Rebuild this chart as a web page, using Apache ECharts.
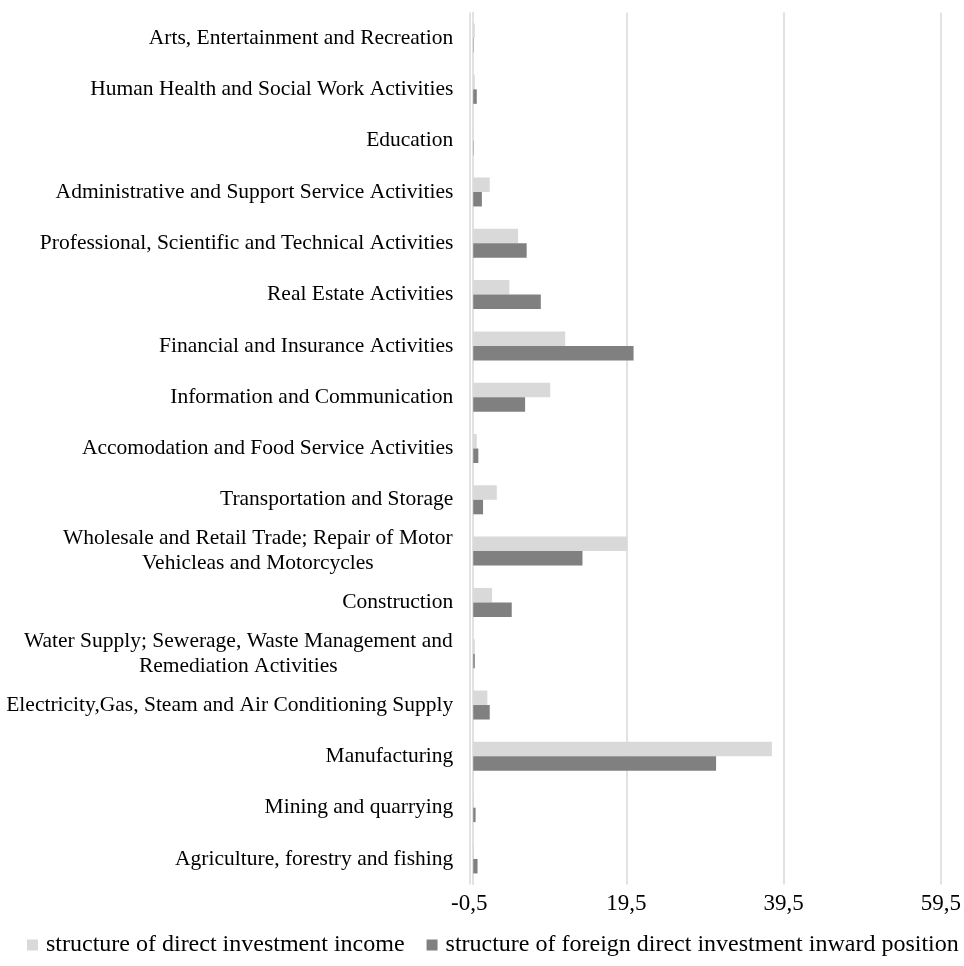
<!DOCTYPE html>
<html>
<head>
<meta charset="utf-8">
<script src="https://cdn.jsdelivr.net/npm/echarts@6/dist/echarts.min.js"></script>
<style>
html,body{margin:0;padding:0;background:#fff;}
#chart{width:964px;height:966px;}
</style>
</head>
<body>
<div id="chart"></div>
<script>
// Categories, top to bottom as shown
const categories = [
  "Arts, Entertainment and Recreation",
  "Human Health and Social Work Activities",
  "Education",
  "Administrative and Support Service Activities",
  "Professional, Scientific and Technical Activities",
  "Real Estate Activities",
  "Financial and Insurance Activities",
  "Information and Communication",
  "Accomodation and Food Service Activities",
  "Transportation and Storage",
  "Wholesale and Retail Trade; Repair of Motor\nVehicleas and Motorcycles",
  "Construction",
  "Water Supply; Sewerage, Waste Management and\nRemediation Activities",
  "Electricity,Gas, Steam and Air Conditioning Supply",
  "Manufacturing",
  "Mining and quarrying",
  "Agriculture, forestry and fishing"
];
const seriesNames = ["structure of direct investment income", "structure of foreign direct investment inward position"];
const incomeValues  = [0.2, 0.2, 0.05, 2.1, 5.7, 4.6, 11.7, 9.8, 0.45, 3.0, 19.6, 2.4, 0.2, 1.8, 38.0, 0.1, 0.1];
const positionValues = [0.05, 0.45, 0.05, 1.1, 6.8, 8.6, 20.4, 6.6, 0.65, 1.25, 13.9, 4.9, 0.2, 2.1, 30.9, 0.3, 0.55];
const tickLabels = ["-0,5", "19,5", "39,5", "59,5"];

const FONT = "Liberation Serif";
const FS = 21.5;
const FS_TICK = 23;
const FS_LEGEND = 24;

// build rich styles for multi-line labels (lines centered, block right-aligned)
const cv = document.createElement('canvas').getContext('2d');
cv.font = FS + 'px "' + FONT + '"';
const rich = {};
const richKey = {};
categories.forEach((c, i) => {
  if (c.indexOf('\n') >= 0) {
    const lines = c.split('\n');
    const w = Math.max(...lines.map(l => cv.measureText(l).width));
    rich['m' + i] = { width: Math.ceil(w) + 1, align: 'center', fontFamily: FONT, fontSize: FS, color: '#000', lineHeight: 25 };
    richKey[c] = 'm' + i;
  }
});

const chart = echarts.init(document.getElementById('chart'));
chart.setOption({
  animation: false,
  textStyle: { fontFamily: FONT },
  grid: { left: 469.3, right: 22.7, top: 12.4, bottom: 81.4, containLabel: false },
  legend: {
    top: 933,
    left: 27,
    width: 960,
    padding: 0,
    itemWidth: 11, itemHeight: 11, itemGap: 22,
    icon: 'rect',
    textStyle: { fontFamily: FONT, fontSize: FS_LEGEND, color: '#000', padding: [0, 0, 0, 3] },
    data: seriesNames
  },
  xAxis: [
    {
      type: 'value', min: 0, max: 60, interval: 20,
      axisLine: { show: false }, axisTick: { show: false },
      splitLine: { show: true, lineStyle: { color: '#d9d9d9', width: 1.5 } },
      axisLabel: {
        margin: 8,
        fontFamily: FONT, fontSize: FS_TICK, color: '#000',
        formatter: v => tickLabels[Math.round(v / 20)]
      }
    },
    {
      type: 'value', min: -0.5, max: 59.5,
      show: false,
      splitLine: { show: false }
    }
  ],
  yAxis: {
    type: 'category',
    inverse: true,
    data: categories,
    axisLine: { show: true, onZero: true, onZeroAxisIndex: 1, lineStyle: { color: '#d9d9d9', width: 1.5 } },
    axisTick: { show: false },
    splitLine: { show: false },
    axisLabel: {
      margin: 16,
      fontFamily: FONT, fontSize: FS, color: '#000', lineHeight: 25,
      formatter: v => {
        if (richKey[v]) {
          return v.split('\n').map(l => '{' + richKey[v] + '|' + l + '}').join('\n');
        }
        return v;
      },
      rich: rich
    }
  },
  series: [
    {
      name: seriesNames[0], type: 'bar', xAxisIndex: 1,
      data: incomeValues,
      barWidth: 14.5, barGap: '0%',
      itemStyle: { color: '#d9d9d9' }
    },
    {
      name: seriesNames[1], type: 'bar', xAxisIndex: 1,
      data: positionValues,
      barWidth: 14.5, barGap: '0%',
      itemStyle: { color: '#808080' }
    }
  ]
});
</script>
</body>
</html>
